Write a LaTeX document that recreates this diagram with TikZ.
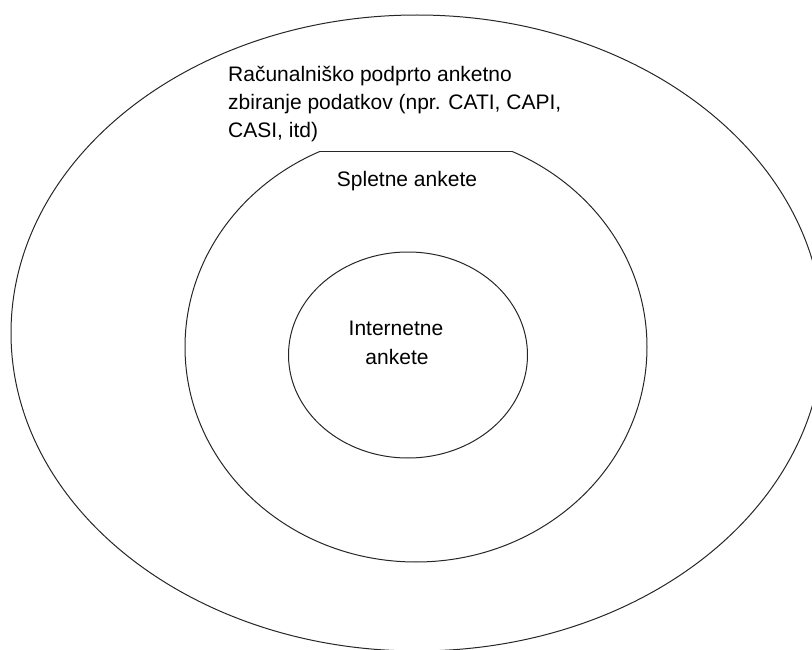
\documentclass[tikz,border=0pt]{standalone}
\usepackage{fontspec}
\setmainfont{Liberation Sans}
\begin{document}
\begin{tikzpicture}[x=1pt,y=-1pt,
  ring/.style={draw=black!85,line width=1pt},
  lbl/.style={inner sep=0pt,font=\fontsize{21}{28}\selectfont}]
\useasboundingbox (0,0) rectangle (812,650);
\clip (0,0) rectangle (812,650);
% outer ellipse
\draw[ring] (417,333) ellipse [x radius=406, y radius=318];
% middle ellipse, top cut off by a chord
\begin{scope}
  \clip (0,152) rectangle (812,650);
  \draw[ring] (416,347) ellipse [x radius=231, y radius=215];
\end{scope}
\coordinate (chordL) at (318.7,152);
\coordinate (chordR) at (513.3,152);
\draw[ring] (chordL) -- (chordR);
% inner ellipse
\draw[ring] (408,355) ellipse [x radius=119.5, y radius=103];
% texts
\node[lbl,anchor=base west] (t1) at (228,82) {Računalniško podprto anketno};
\node[lbl,anchor=base west] (t2) at (228,110) {zbiranje podatkov (npr. CATI, CAPI,};
\node[lbl,anchor=base west] (t3) at (228,138) {CASI, itd)};
\node[lbl,anchor=base] (sp) at (407,186) {Spletne ankete};
\node[lbl,anchor=base] (in1) at (396,335) {Internetne};
\node[lbl,anchor=base] (in2) at (397,364) {ankete};
\end{tikzpicture}
\end{document}
